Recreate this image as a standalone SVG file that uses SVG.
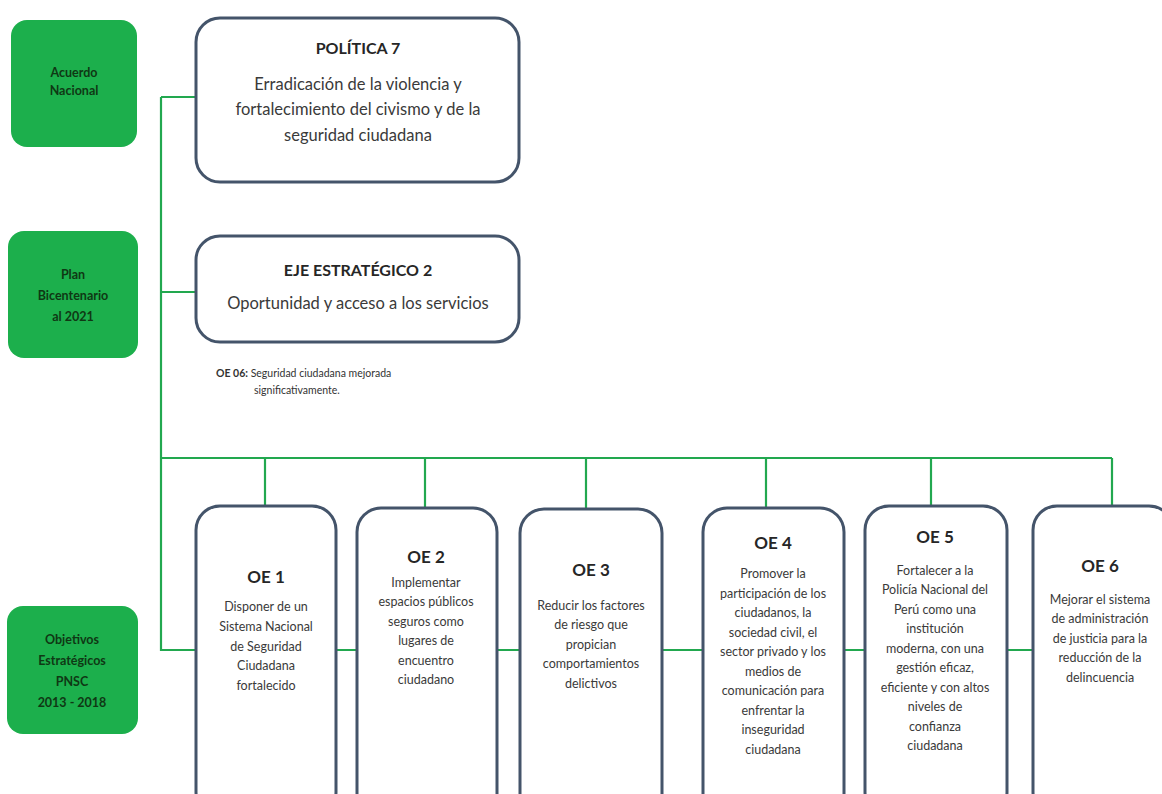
<svg xmlns="http://www.w3.org/2000/svg" width="1162" height="794" viewBox="0 0 1162 794">
<style>
.g{fill:#1caf4c;}
.gt{font-family:Lato,"Open Sans",sans-serif;font-weight:bold;font-size:12.5px;fill:#0f3814;text-anchor:middle;}
.b{fill:#fff;stroke:#44546a;stroke-width:3;}
.t{font-family:Lato,"Open Sans",sans-serif;font-weight:bold;fill:#262626;text-anchor:middle;}
.x{font-family:Lato,"Open Sans",sans-serif;fill:#3a3a3a;text-anchor:middle;}
.s{font-size:12.5px;}
.c{fill:none;stroke:#22a84f;stroke-width:2.2;}
</style>
<rect width="1162" height="794" fill="#fff"/>
<g id="connectors">
<path class="c" d="M161 97H196M161 97V650H196M161 292H196M161 458H1112"/>
<path class="c" d="M265 458V506M425 458V508M586 458V508M766 458V508M931 458V506M1112 458V506"/>
<path class="c" d="M336 650H357M497 650H520M662 650H703M844 650H865M1007 650H1033"/>
</g>
<g id="acuerdo"><rect class="g" x="11" y="20" width="126" height="127" rx="16"/>
<text class="gt" x="74" y="77">Acuerdo</text><text class="gt" x="74" y="95">Nacional</text></g>
<g id="plan"><rect class="g" x="8" y="231" width="130" height="127" rx="16"/>
<text class="gt" x="73" y="279">Plan</text><text class="gt" x="73" y="300">Bicentenario</text><text class="gt" x="73" y="321">al 2021</text></g>
<g id="objetivos"><rect class="g" x="7" y="606" width="131" height="128" rx="16"/>
<text class="gt" x="72" y="644">Objetivos</text><text class="gt" x="72" y="665">Estratégicos</text><text class="gt" x="72" y="686">PNSC</text><text class="gt" x="72" y="707">2013 - 2018</text></g>
<g id="politica"><rect class="b" x="196" y="18" width="323" height="164" rx="24"/>
<text class="t" x="358" y="54" font-size="16">POLÍTICA 7</text>
<text class="x" x="358" y="90" font-size="16.5">Erradicación de la violencia y</text>
<text class="x" x="358" y="115" font-size="16.5">fortalecimiento del civismo y de la</text>
<text class="x" x="358" y="141" font-size="16.5">seguridad ciudadana</text></g>
<g id="eje"><rect class="b" x="196" y="236" width="323" height="106" rx="24"/>
<text class="t" x="358" y="276" font-size="16">EJE ESTRATÉGICO 2</text>
<text class="x" x="358" y="309" font-size="16.5">Oportunidad  y acceso a los servicios</text></g>
<g id="oe06"><text font-family="Lato,sans-serif" font-size="10.5" fill="#333" x="216" y="377"><tspan font-weight="bold">OE 06:</tspan> Seguridad ciudadana mejorada</text>
<text font-family="Lato,sans-serif" font-size="10.5" fill="#333" x="254" y="394">significativamente.</text></g>
<g id="oe1"><rect class="b" x="196" y="506" width="140" height="310" rx="24"/>
<text class="t" x="266" y="583" font-size="17">OE 1</text>
<text class="x s" x="266" y="611">Disponer de un</text><text class="x s" x="266" y="631">Sistema Nacional</text><text class="x s" x="266" y="651">de Seguridad</text><text class="x s" x="266" y="670">Ciudadana</text><text class="x s" x="266" y="690">fortalecido</text></g>
<g id="oe2"><rect class="b" x="357" y="508" width="140" height="310" rx="24"/>
<text class="t" x="426" y="563" font-size="17">OE 2</text>
<text class="x s" x="426" y="587">Implementar</text><text class="x s" x="426" y="606">espacios públicos</text><text class="x s" x="426" y="626">seguros como</text><text class="x s" x="426" y="645">lugares de</text><text class="x s" x="426" y="665">encuentro</text><text class="x s" x="426" y="684">ciudadano</text></g>
<g id="oe3"><rect class="b" x="520" y="509" width="142" height="310" rx="24"/>
<text class="t" x="591" y="576" font-size="17">OE 3</text>
<text class="x s" x="591" y="610">Reducir los factores</text><text class="x s" x="591" y="629">de riesgo que</text><text class="x s" x="591" y="649">propician</text><text class="x s" x="591" y="668">comportamientos</text><text class="x s" x="591" y="688">delictivos</text></g>
<g id="oe4"><rect class="b" x="703" y="508" width="141" height="310" rx="24"/>
<text class="t" x="773" y="549" font-size="17">OE 4</text>
<text class="x s" x="773" y="578">Promover la</text><text class="x s" x="773" y="598">participación de los</text><text class="x s" x="773" y="617">ciudadanos, la</text><text class="x s" x="773" y="637">sociedad civil, el</text><text class="x s" x="773" y="656">sector privado y los</text><text class="x s" x="773" y="676">medios de</text><text class="x s" x="773" y="695">comunicación para</text><text class="x s" x="773" y="715">enfrentar la</text><text class="x s" x="773" y="734">inseguridad</text><text class="x s" x="773" y="754">ciudadana</text></g>
<g id="oe5"><rect class="b" x="865" y="506" width="142" height="310" rx="24"/>
<text class="t" x="935" y="543" font-size="17">OE 5</text>
<text class="x s" x="935" y="575">Fortalecer a la</text><text class="x s" x="935" y="594">Policía Nacional del</text><text class="x s" x="935" y="614">Perú como una</text><text class="x s" x="935" y="633">institución</text><text class="x s" x="935" y="653">moderna, con una</text><text class="x s" x="935" y="672">gestión eficaz,</text><text class="x s" x="935" y="692">eficiente y con altos</text><text class="x s" x="935" y="711">niveles de</text><text class="x s" x="935" y="731">confianza</text><text class="x s" x="935" y="750">ciudadana</text></g>
<g id="oe6"><rect class="b" x="1033" y="506" width="140" height="310" rx="24"/>
<text class="t" x="1100" y="572" font-size="17">OE 6</text>
<text class="x s" x="1100" y="604">Mejorar el sistema</text><text class="x s" x="1100" y="623">de administración</text><text class="x s" x="1100" y="643">de justicia para la</text><text class="x s" x="1100" y="662">reducción de la</text><text class="x s" x="1100" y="682">delincuencia</text></g>
</svg>
